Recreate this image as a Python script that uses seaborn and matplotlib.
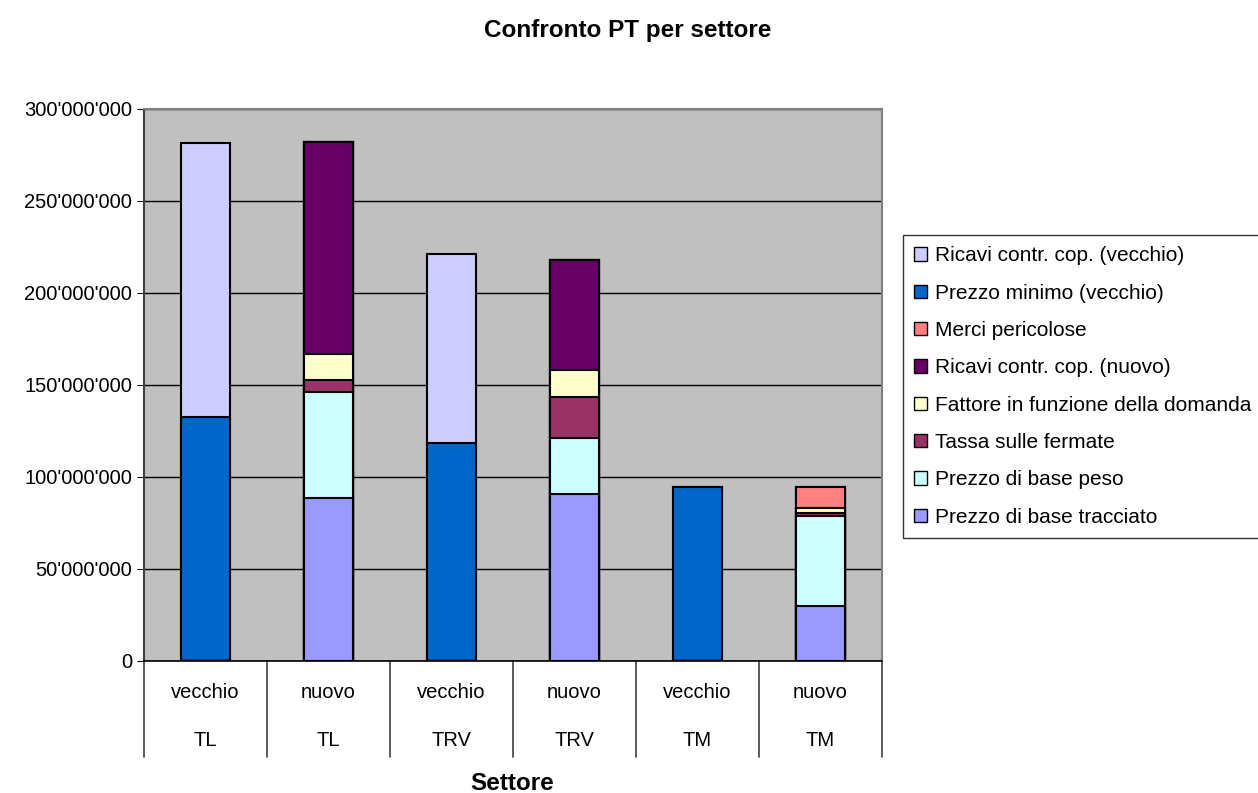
import numpy as np
import pandas as pd
import matplotlib
matplotlib.use("Agg")
import matplotlib.pyplot as plt
from matplotlib.patches import Patch
from matplotlib.ticker import FuncFormatter
import seaborn as sns

# categorie (due livelli)
stato = ["vecchio", "nuovo", "vecchio", "nuovo", "vecchio", "nuovo"]
settore = ["TL", "TL", "TRV", "TRV", "TM", "TM"]

# valori in milioni, dal basso verso l'alto
tracciato = [0, 88.8, 0, 91.0, 0, 30.0]
peso = [0, 57.3, 0, 30.4, 0, 48.8]
tassa = [0, 6.8, 0, 22.0, 0, 1.5]
fattore = [0, 14.1, 0, 14.9, 0, 2.8]
ricavi_nuovo = [0, 115.2, 0, 59.7, 0, 0]
merci = [0, 0, 0, 0, 0, 11.3]
minimo = [132.6, 0, 118.3, 0, 94.4, 0]
ricavi_vecchio = [149.0, 0, 103.1, 0, 0, 0]

serie = [
    ("Prezzo di base tracciato", tracciato, "#9999FF"),
    ("Prezzo di base peso", peso, "#CCFFFF"),
    ("Tassa sulle fermate", tassa, "#993366"),
    ("Fattore in funzione della domanda", fattore, "#FFFFCC"),
    ("Ricavi contr. cop. (nuovo)", ricavi_nuovo, "#660066"),
    ("Merci pericolose", merci, "#FF8080"),
    ("Prezzo minimo (vecchio)", minimo, "#0066CC"),
    ("Ricavi contr. cop. (vecchio)", ricavi_vecchio, "#CCCCFF"),
]

sns.set_style("white")
plt.rcParams['font.family'] = ['Liberation Sans', 'DejaVu Sans']
plt.rcParams['text.color'] = 'black'

keys = [f"{s} {t}" for s, t in zip(stato, settore)]
df = pd.DataFrame({"cat": keys})
cum = np.zeros(len(keys))
for nome, vals, col in serie:
    cum = cum + np.array(vals)
    df[nome] = cum

fig = plt.figure(figsize=(12.58, 7.93), dpi=100)
ax = fig.add_axes([144 / 1258, 1 - 661 / 793, (882 - 144) / 1258, (661 - 109) / 793])
ax.set_facecolor("#C0C0C0")

# disegno cumulativo dall'alto verso il basso
for nome, vals, col in reversed(serie):
    sns.barplot(data=df, x="cat", y=nome, color=col, saturation=1, width=0.4,
                edgecolor="black", linewidth=1.5, errorbar=None, ax=ax, zorder=3)

ax.set_ylim(0, 300)
ax.set_xlim(-0.5, 5.5)
ax.set_yticks(np.arange(0, 301, 50))
ax.yaxis.set_major_formatter(FuncFormatter(
    lambda v, p: "0" if v == 0 else f"{int(round(v * 1e6)):,}".replace(",", "'")))
ax.tick_params(axis="y", labelsize=14.5, length=5, direction="out", left=True, colors="black")
ax.grid(axis="y", color="black", linewidth=1, zorder=1)
ax.set_axisbelow(True)
ax.set_xticks([])
ax.set_xlabel("")
ax.set_ylabel("")

for side in ["top", "right"]:
    ax.spines[side].set_color("#808080")
    ax.spines[side].set_linewidth(1.5)
ax.spines["left"].set_color("#404040")
ax.spines["left"].set_linewidth(1.5)
ax.spines["bottom"].set_color("black")
ax.spines["bottom"].set_linewidth(1.2)

# etichette a due livelli
trans = ax.get_xaxis_transform()
for i, (s, t) in enumerate(zip(stato, settore)):
    ax.text(i, -0.057, s, transform=trans, ha="center", va="center", fontsize=14.5)
    ax.text(i, -0.144, t, transform=trans, ha="center", va="center", fontsize=14.5)
for b in np.arange(-0.5, 6, 1):
    ax.plot([b, b], [0, -0.174], transform=trans, color="#404040", linewidth=1.2, clip_on=False)

fig.text(628 / 1258, 1 - 30 / 793, "Confronto PT per settore", ha="center", va="center",
         fontsize=17.5, fontweight="bold")
fig.text(512 / 1258, 1 - 783 / 793, "Settore", ha="center", va="center",
         fontsize=17.5, fontweight="bold")

handles = [Patch(facecolor=col, edgecolor="black", linewidth=1, label=nome)
           for nome, vals, col in reversed(serie)]
leg = fig.legend(handles=handles, loc="upper left", bbox_to_anchor=(903 / 1258, 1 - 235 / 793),
                 frameon=True, fancybox=False, fontsize=15, handlelength=0.6, handleheight=0.6,
                 handletextpad=0.4, labelspacing=0.88, borderpad=0.55, borderaxespad=0)
leg.get_frame().set_edgecolor("black")
leg.get_frame().set_linewidth(1)

fig.savefig("out.png", dpi=100)
